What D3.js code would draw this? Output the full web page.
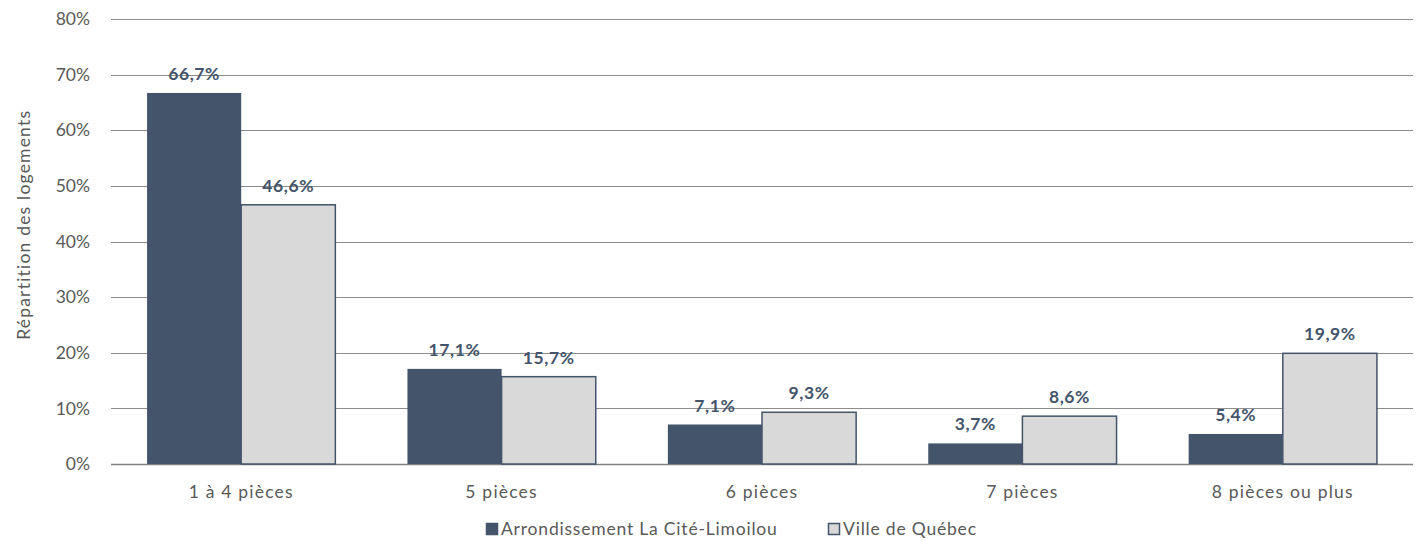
<!DOCTYPE html>
<html>
<head>
<meta charset="utf-8">
<script src="https://cdn.jsdelivr.net/npm/d3@7"></script>
<style>
  body { margin: 0; background: #fff; }
  text { font-family: Lato, "Open Sans", sans-serif; }
</style>
</head>
<body>
<div id="chart"></div>
<script>
// data
const categories = ["1 à 4 pièces", "5 pièces", "6 pièces", "7 pièces", "8 pièces ou plus"];
const seriesNames = ["Arrondissement La Cité-Limoilou", "Ville de Québec"];
const limoilou = [66.7, 17.1, 7.1, 3.7, 5.4];
const quebec = [46.6, 15.7, 9.3, 8.6, 19.9];
const yTicks = [0, 10, 20, 30, 40, 50, 60, 70, 80];

const width = 1418,
    height = 540,
    margin = {top: 19, right: 5, bottom: 76, left: 111};

const colors = ["#44546a", "#d9d9d9"];

const svg = d3.select("#chart").append("svg")
  .attr("width", width)
  .attr("height", height);

const x = d3.scaleBand()
  .domain(categories)
  .range([margin.left, width - margin.right])
  .paddingInner(0)
  .paddingOuter(0);

const x1 = d3.scaleBand()
  .domain(seriesNames)
  .range([0, x.bandwidth()])
  .paddingOuter(0.383);

const y = d3.scaleLinear()
  .domain([0, 80])
  .range([height - margin.bottom, margin.top]);

// gridlines
svg.append("g").selectAll("line").data(yTicks).enter().append("line")
  .attr("x1", margin.left)
  .attr("x2", width - margin.right)
  .attr("y1", (d) => Math.round(y(d)) + 0.5)
  .attr("y2", (d) => Math.round(y(d)) + 0.5)
  .style("stroke", (d) => d === 0 ? "#7f7f7f" : "#8c8c8c")
  .style("stroke-width", (d) => d === 0 ? 1.5 : 1);

// y tick labels
svg.append("g").selectAll("text").data(yTicks).enter().append("text")
  .attr("x", 90)
  .attr("y", (d) => y(d))
  .attr("dy", "0.35em")
  .attr("text-anchor", "end")
  .style("font-size", "17.5px")
  .style("fill", "#595959")
  .text((d) => d + "%");

// y axis title
svg.append("text")
  .attr("transform", "translate(24," + y(43) + ") rotate(-90)")
  .attr("text-anchor", "middle")
  .attr("dy", "0.35em")
  .style("font-size", "17.5px")
  .style("letter-spacing", "1.2px")
  .style("fill", "#595959")
  .text("Répartition des logements");

const rows = categories.map((c, i) => ({cat: c, values: [limoilou[i], quebec[i]]}));

const groups = svg.append("g").selectAll("g").data(rows).enter().append("g")
  .attr("transform", (d) => "translate(" + x(d.cat) + ",0)");

groups.selectAll("rect").data((d) => d.values.map((v, j) => ({name: seriesNames[j], v: v, j: j})))
  .enter().append("rect")
  .attr("x", (d) => x1(d.name))
  .attr("width", x1.bandwidth())
  .attr("y", (d) => y(d.v))
  .attr("height", (d) => y(0) - y(d.v))
  .style("fill", (d) => colors[d.j])
  .style("stroke", (d) => d.j === 1 ? "#44546a" : "none")
  .style("stroke-width", 1.5);

groups.selectAll("text.val").data((d) => d.values.map((v, j) => ({name: seriesNames[j], v: v, j: j})))
  .enter().append("text")
  .attr("class", "val")
  .attr("x", (d) => x1(d.name) + x1.bandwidth() / 2)
  .attr("y", (d) => y(d.v) - 13)
  .attr("text-anchor", "middle")
  .style("font-size", "17.5px")
  .style("font-weight", "bold")
  .style("letter-spacing", "0.6px")
  .style("fill", "#44546a")
  .text((d) => d3.format(".1f")(d.v).replace(".", ",") + "%");

// category labels
svg.append("g").selectAll("text").data(categories).enter().append("text")
  .attr("x", (d) => x(d) + x.bandwidth() / 2)
  .attr("y", 498)
  .attr("text-anchor", "middle")
  .style("font-size", "17.5px")
  .style("letter-spacing", "1.2px")
  .style("fill", "#595959")
  .text((d) => d);

// legend
const legendX = [486, 828];
const legend = svg.append("g").selectAll("g").data(seriesNames).enter().append("g")
  .attr("transform", (d, i) => "translate(" + legendX[i] + ",523)");

legend.append("rect")
  .attr("x", 0.5)
  .attr("y", 0.5)
  .attr("width", 11)
  .attr("height", 11)
  .style("fill", (d, i) => colors[i])
  .style("stroke", "#44546a")
  .style("stroke-width", 1.5);

legend.append("text")
  .attr("x", 15)
  .attr("y", 6)
  .attr("dy", "0.35em")
  .style("font-size", "17.5px")
  .style("letter-spacing", "0.8px")
  .style("fill", "#595959")
  .text((d) => d);
</script>
</body>
</html>
